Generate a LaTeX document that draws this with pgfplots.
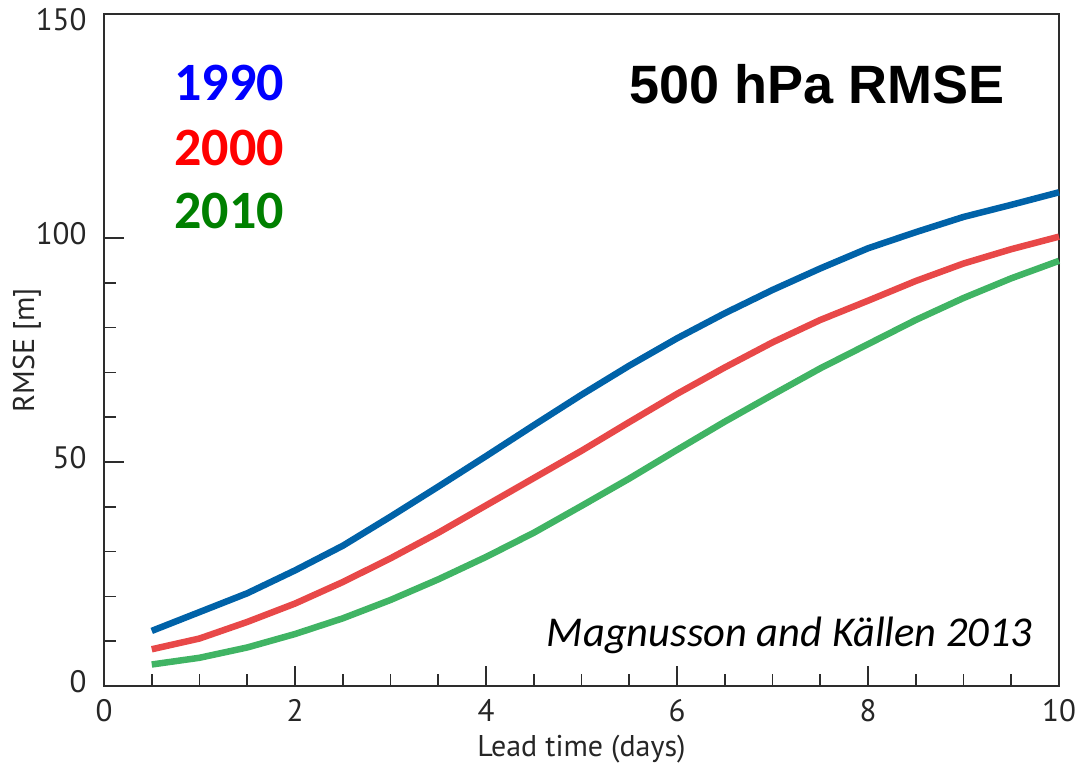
\documentclass[border=0pt]{standalone}
\usepackage{pgfplots}
\pgfplotsset{compat=1.18}
\usepackage{fontspec}
\setmainfont{PT Sans}
\newfontfamily\calfont{Carlito}
\newfontfamily\arialfont{Liberation Sans}
\definecolor{lblue}{RGB}{0,98,168}
\definecolor{lred}{RGB}{232,72,72}
\definecolor{lgreen}{RGB}{64,180,100}
\definecolor{axgray}{RGB}{45,45,45}
\definecolor{tgreen}{RGB}{0,128,0}
\begin{document}
\begin{tikzpicture}
\path[use as bounding box] (-104pt,-79pt) rectangle (974pt,686pt);
\begin{axis}[
  at={(0,0)}, anchor=south west,
  width=955pt, height=672pt, scale only axis,
  xmin=0, xmax=10, ymin=0, ymax=150,
  xtick={0,2,...,10}, ytick={0,50,100},
  extra y ticks={150},
  extra y tick style={yticklabel style={yshift=-10pt}},
  minor x tick num=3, minor y tick num=4,
  xtick pos=left, ytick pos=left,
  tick align=inside,
  major tick length=20pt, minor tick length=12pt,
  axis line style={axgray, line width=1.6pt},
  every tick/.style={axgray, line width=1.6pt},
  /pgf/number format/assume math mode=true,
  ticklabel style={font=\fontsize{31}{31}\selectfont, text=black!85},
  xticklabel style={yshift=-10pt},
  yticklabel style={xshift=-14pt, yshift=4pt},
  xlabel={Lead time (days)}, ylabel={RMSE [m]},
  label style={font=\fontsize{30}{30}\selectfont, text=black!85},
  xlabel style={yshift=-6pt},
  ylabel style={yshift=-12pt},
  clip=false,
]
\addplot[lblue, line width=6.5pt] coordinates {
(0.5,12.3)(1,16.5)(1.5,20.7)(2,25.8)(2.5,31.3)(3,37.8)(3.5,44.5)(4,51.3)(4.5,58.2)(5,65.0)
(5.5,71.5)(6,77.6)(6.5,83.2)(7,88.4)(7.5,93.2)(8,97.7)(8.5,101.3)(9,104.7)(9.5,107.4)(10,110.2)};
\addplot[lred, line width=6.5pt] coordinates {
(0.5,8.2)(1,10.6)(1.5,14.3)(2,18.4)(2.5,23.2)(3,28.5)(3.5,34.2)(4,40.3)(4.5,46.4)(5,52.5)
(5.5,58.9)(6,65.2)(6.5,71.1)(7,76.7)(7.5,81.7)(8,86.0)(8.5,90.4)(9,94.3)(9.5,97.5)(10,100.3)};
\addplot[lgreen, line width=6.5pt] coordinates {
(0.5,4.8)(1,6.3)(1.5,8.6)(2,11.6)(2.5,15.1)(3,19.2)(3.5,23.8)(4,28.8)(4.5,34.2)(5,40.2)
(5.5,46.3)(6,52.7)(6.5,59.0)(7,65.0)(7.5,70.9)(8,76.3)(8.5,81.7)(9,86.6)(9.5,91.0)(10,94.9)};
\node[font=\calfont\bfseries\fontsize{54}{54}\selectfont, text=blue] at (axis cs:1.31,134.7) {1990};
\node[font=\calfont\bfseries\fontsize{54}{54}\selectfont, text=red] at (axis cs:1.31,120.0) {2000};
\node[font=\calfont\bfseries\fontsize{54}{54}\selectfont, text=tgreen] at (axis cs:1.31,106.0) {2010};
\node[font=\arialfont\bfseries\fontsize{54}{54}\selectfont] at (axis cs:7.47,134.3) {500 hPa RMSE};
\node[font=\calfont\itshape\fontsize{42.5}{42.5}\selectfont] at (axis cs:7.18,11.4) {Magnusson and Källen 2013};
\end{axis}
\end{tikzpicture}
\end{document}
